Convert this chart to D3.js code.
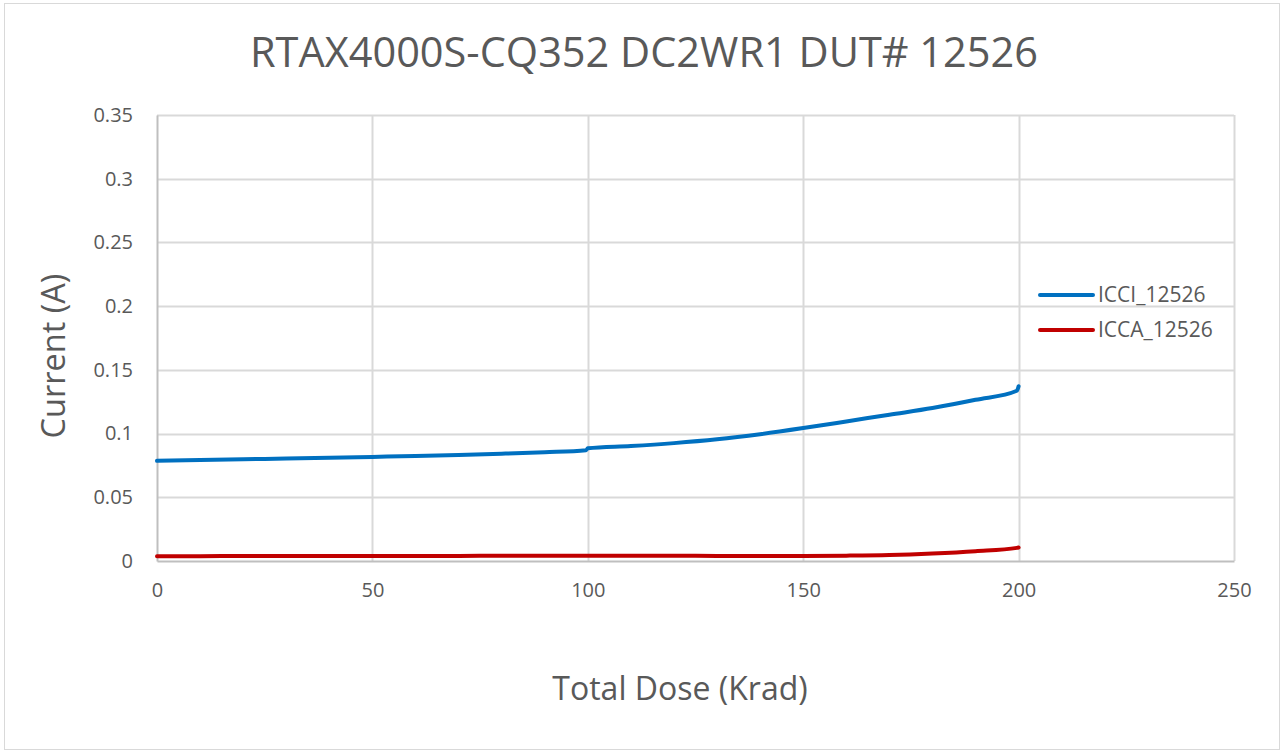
<!DOCTYPE html>
<html>
<head>
<meta charset="utf-8">
<script src="https://cdn.jsdelivr.net/npm/d3@7"></script>
<style>
  body { margin: 0; background: #fff; }
  text { font-family: "Open Sans", "Liberation Sans", sans-serif; fill: #595959; }
</style>
</head>
<body>
<script>
// Chart data
const title = "RTAX4000S-CQ352 DC2WR1 DUT# 12526";
const seriesNames = ["ICCI_12526", "ICCA_12526"];
const seriesColors = ["#0070C0", "#C00000"];
const dose = [0, 10, 20, 30, 40, 50, 60, 70, 80, 90, 99.6, 100, 110, 120, 130, 140, 150, 160, 170, 180, 190, 199.6, 200];
const icci = [0.0786, 0.0792, 0.0798, 0.0804, 0.0810, 0.0817, 0.0824, 0.0832, 0.0842, 0.0854, 0.0870, 0.0884, 0.0902, 0.0925, 0.0955, 0.0995, 0.1043, 0.1095, 0.1148, 0.1200, 0.1265, 0.1336, 0.1372];
const icca = [0.0038, 0.0038, 0.0039, 0.0039, 0.0040, 0.0040, 0.0040, 0.0040, 0.0041, 0.0041, 0.0041, 0.0041, 0.0041, 0.0041, 0.0040, 0.0040, 0.0040, 0.0042, 0.0047, 0.0059, 0.0077, 0.0103, 0.0106];
const xTicks = [0, 50, 100, 150, 200, 250];
const yTicks = [0, 0.05, 0.1, 0.15, 0.2, 0.25, 0.3, 0.35];

const width = 1282, height = 752;
const margin = { left: 157, right: 48, top: 115, bottom: 191 };

const svg = d3.select("body").append("svg")
    .attr("width", width)
    .attr("height", height);

// outer chart border
svg.append("rect")
    .attr("x", 4.5).attr("y", 3.5)
    .attr("width", 1275).attr("height", 746)
    .attr("fill", "#fff")
    .attr("stroke", "#d9d9d9");

const x = d3.scaleLinear().domain([0, 250]).range([margin.left, width - margin.right]);
const y = d3.scaleLinear().domain([0, 0.35]).range([height - margin.bottom, margin.top]);

// gridlines
svg.append("g")
    .selectAll("line.hgrid")
    .data(yTicks.slice(1))
    .enter().append("line")
    .attr("x1", x(0)).attr("x2", x(250))
    .attr("y1", d => Math.round(y(d)) + 0.5).attr("y2", d => Math.round(y(d)) + 0.5)
    .attr("stroke", "#d9d9d9").attr("stroke-width", 2);

svg.append("g")
    .selectAll("line.vgrid")
    .data(xTicks.slice(1))
    .enter().append("line")
    .attr("x1", d => Math.round(x(d)) + 0.5).attr("x2", d => Math.round(x(d)) + 0.5)
    .attr("y1", y(0)).attr("y2", y(0.35))
    .attr("stroke", "#d9d9d9").attr("stroke-width", 2);

// axes
const xAxis = svg.append("g")
    .attr("transform", `translate(0,${y(0)})`)
    .call(d3.axisBottom(x).tickValues(xTicks).tickSize(0).tickPadding(22).tickFormat(d3.format("d")));
const yAxis = svg.append("g")
    .attr("transform", `translate(${x(0)},0)`)
    .call(d3.axisLeft(y).tickValues(yTicks).tickSize(0).tickPadding(24).tickFormat(d => d === 0 ? "0" : String(d)));

[xAxis, yAxis].forEach(g => {
    g.select(".domain").attr("stroke", "#bfbfbf").attr("stroke-width", 2);
    g.selectAll("text").attr("font-size", 20).attr("fill", "#595959")
        .style("font-family", "'Open Sans', sans-serif");
});

// series lines
const line = d3.line()
    .x((d, i) => x(dose[i]))
    .y(d => y(d))
    .curve(d3.curveMonotoneX);

[icci, icca].forEach((vals, k) => {
    svg.append("path")
        .datum(vals)
        .attr("fill", "none")
        .attr("stroke", seriesColors[k])
        .attr("stroke-width", 4)
        .attr("stroke-linecap", "round")
        .attr("stroke-linejoin", "round")
        .attr("d", line);
});

// title
svg.append("text")
    .attr("x", 644).attr("y", 67)
    .attr("text-anchor", "middle")
    .attr("font-size", 41.5)
    .text(title);

// axis titles
svg.append("text")
    .attr("x", 680).attr("y", 700)
    .attr("text-anchor", "middle")
    .attr("font-size", 32)
    .text("Total Dose (Krad)");

svg.append("text")
    .attr("transform", "translate(65,356) rotate(-90)")
    .attr("text-anchor", "middle")
    .attr("font-size", 32.5)
    .text("Current (A)");

// legend
const legend = svg.append("g")
    .selectAll("g")
    .data(seriesNames)
    .enter().append("g")
    .attr("transform", (d, i) => `translate(1040,${295 + i * 35})`);

legend.append("line")
    .attr("x1", 0).attr("x2", 53)
    .attr("stroke", (d, i) => seriesColors[i])
    .attr("stroke-width", 4)
    .attr("stroke-linecap", "round");

legend.append("text")
    .attr("x", 58).attr("dy", "0.35em")
    .attr("font-size", 21)
    .text(d => d);
</script>
</body>
</html>
